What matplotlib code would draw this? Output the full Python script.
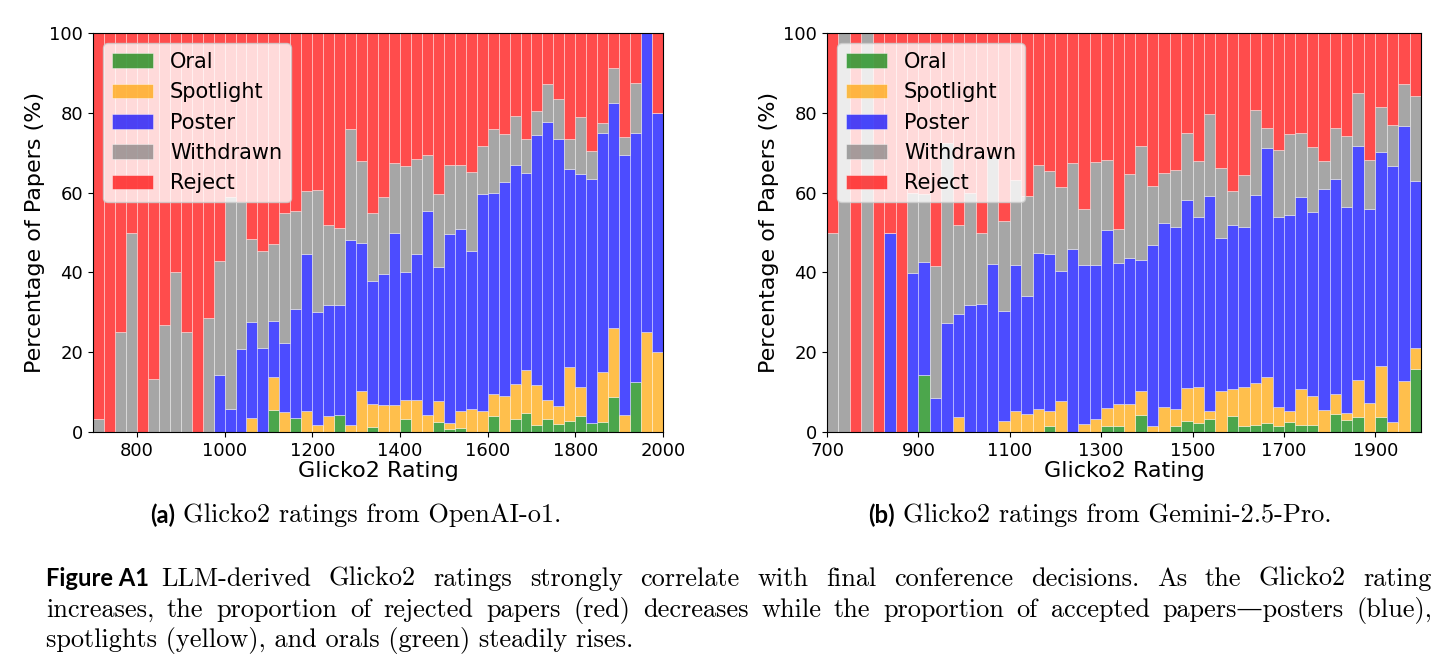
import matplotlib
matplotlib.use("Agg")
import matplotlib.pyplot as plt
import numpy as np

# ---------------- data (percent of papers per 25-point Glicko2 bin) ----------------
bin_start = list(range(700, 2000, 25))
bin_width = 25

# (a) OpenAI-o1
a_oral = [0, 0, 0, 0, 0, 0, 0, 0, 0, 0, 0, 0, 0, 0, 0, 0, 5.4, 0, 3.5, 0,
          0, 0, 4.2, 0, 0, 1.3, 0, 0, 3.3, 0, 0, 2.5, 0.7, 1.0, 0, 0, 3.9, 0, 3.3, 4.8,
          1.8, 3.3, 2.0, 2.8, 4.1, 2.3, 2.4, 8.7, 0, 12.5, 0, 0]
a_spot = [0, 0, 0, 0, 0, 0, 0, 0, 0, 0, 0, 0, 0, 0, 3.5, 0, 8.4, 4.9, 0, 5.2,
          1.7, 3.9, 0, 1.7, 10.2, 5.7, 6.7, 6.7, 4.7, 7.9, 4.3, 5.2, 1.6, 4.3, 5.8, 5.3, 5.5, 8.9, 8.8, 10.8,
          10.1, 4.8, 4.6, 13.4, 7.2, 0, 12.6, 17.4, 4.3, 0, 25, 20]
a_poster = [0, 0, 0, 0, 0, 0, 0, 0, 0, 0, 0, 14.3, 5.8, 20.9, 24, 21.1, 13.9, 17.5, 27.3, 39.4,
            28.5, 28, 27.7, 46.4, 37.2, 30.9, 32.9, 43.3, 32.1, 36.7, 51.1, 33.7, 47.2, 45.7, 39.5, 54.4, 50.6, 53.7, 54.9, 49.4,
            62.5, 69.6, 66.9, 49.8, 53.4, 61.2, 59.9, 56.4, 65.2, 62.4, 75, 60]
a_withdrawn = [3.3, 0, 25, 50, 0, 13.3, 26.7, 40, 25, 0, 28.6, 28.5, 53, 36.8, 20.9, 24.3, 19.4, 32.5, 24.5, 15.9,
               30.5, 20.1, 19.2, 27.8, 20.4, 17, 19.3, 17.5, 26.6, 23.8, 14.1, 18.3, 17.4, 15.9, 19.9, 12.1, 15.9, 12.1, 12.2, 8.5,
               6.1, 9.5, 10, 7.5, 14.2, 6.9, 2.5, 8.7, 4.4, 12.6, 0, 0]
a_reject = [96.7, 100, 75, 50, 100, 86.7, 73.3, 60, 75, 100, 71.4, 57.2, 41.2, 42.3, 51.6, 54.6, 52.9, 45.1, 44.7, 39.5,
            39.3, 48, 48.9, 24.1, 32.2, 45.1, 41.1, 32.5, 33.3, 31.6, 30.5, 40.3, 33.1, 33.1, 34.8, 28.2, 24.1, 25.3, 20.8, 26.5,
            19.5, 12.8, 16.5, 26.5, 21.1, 29.6, 22.6, 8.8, 26.1, 12.5, 0, 20]

# (b) Gemini-2.5-Pro
b_oral = [0, 0, 0, 0, 0, 0, 0, 0, 14.2, 0, 0, 0, 0, 0, 0, 0, 0, 0, 0, 1.6,
          0, 0, 0, 0, 1.4, 1.6, 0, 4.3, 0, 0, 1.4, 2.7, 2.3, 3.3, 0, 4.1, 1.6, 1.7, 2.3, 1.4,
          2.4, 1.7, 1.7, 0, 4.6, 2.9, 3.7, 0, 3.7, 0, 0, 15.8]
b_spot = [0, 0, 0, 0, 0, 0, 0, 0, 0, 0, 0, 3.7, 0, 0, 0, 2.7, 5.2, 4.6, 5.8, 3.6,
          7.7, 0, 2.0, 3.3, 4.6, 5.3, 7.1, 6.1, 1.6, 6.3, 4.4, 8.3, 9.1, 1.9, 10.4, 6.8, 9.7, 10.6, 11.5, 4.8,
          2.8, 9.1, 7.2, 5.4, 4.9, 1.9, 9.4, 7.3, 12.9, 2.5, 12.9, 5.3]
b_poster = [0, 0, 0, 0, 0, 50, 0, 39.8, 28.4, 8.4, 27.2, 25.9, 31.9, 32.1, 42.2, 27.7, 36.7, 29.4, 39.1, 39.4,
            32.6, 45.9, 39.9, 38.6, 44.7, 35.4, 36.5, 32.8, 45.3, 46.1, 45.5, 47.1, 42.5, 54, 38.1, 41.1, 40.2, 47.2, 57.4, 47.6,
            49.3, 48, 46.3, 55.6, 54, 51.6, 58.5, 48.6, 53.6, 64.1, 63.9, 41.9]
b_withdrawn = [50, 100, 0, 100, 0, 0, 0, 20, 17, 33.1, 45.3, 22.4, 27.9, 17.9, 26.8, 22.4, 21.3, 25.1, 21.9, 20.9,
               21.2, 21.4, 14.1, 25.8, 17.5, 8.6, 21.1, 28.5, 14.8, 12.5, 14.4, 16.8, 13.9, 20.5, 17.7, 8.3, 13, 21.3, 5, 17,
               20.2, 16.1, 16.3, 7, 12.7, 17.9, 13.4, 12.3, 11.3, 10.3, 10.4, 21.2]
b_reject = [50, 0, 100, 0, 100, 50, 100, 40.2, 40.4, 58.5, 27.5, 48, 40.2, 50, 31, 47.2, 36.8, 40.9, 33.2, 34.5,
            38.5, 32.7, 44, 32.3, 31.8, 49.1, 35.3, 28.3, 38.3, 35.1, 34.3, 25.1, 32.2, 20.3, 33.8, 39.7, 35.5, 19.2, 23.8, 29.2,
            25.3, 25.1, 28.5, 32, 23.8, 25.7, 15, 31.8, 18.5, 23.1, 12.8, 15.8]

categories = ["Oral", "Spotlight", "Poster", "Withdrawn", "Reject"]
colors = ["green", "orange", "blue", "gray", "red"]

a_xticks = [800, 1000, 1200, 1400, 1600, 1800, 2000]
b_xticks = [700, 900, 1100, 1300, 1500, 1700, 1900]
yticks = [0, 20, 40, 60, 80, 100]

caption_a = "Glicko2 ratings from OpenAI-o1."
caption_b = "Glicko2 ratings from Gemini-2.5-Pro."
fig_lines = [
    "LLM-derived Glicko2 ratings strongly correlate with final conference decisions.  As the Glicko2 rating",
    "increases, the proportion of rejected papers (red) decreases while the proportion of accepted papers\u2014posters (blue),",
    "spotlights (yellow), and orals (green) steadily rises.",
]

# ---------------- figure ----------------
W, H = 1448, 672
fig = plt.figure(figsize=(W / 100, H / 100), dpi=100)


def axes_px(x0, y0, x1, y1):
    return fig.add_axes([x0 / W, 1 - y1 / H, (x1 - x0) / W, (y1 - y0) / H])


ax_a = axes_px(93, 33, 663, 432)
ax_b = axes_px(827, 33, 1421, 432)


def draw(ax, series, xticks):
    x = np.array(bin_start, dtype=float)
    bottom = np.zeros(len(x))
    for name, col, vals in zip(categories, colors, series):
        v = np.array(vals, dtype=float)
        ax.bar(x, v, width=bin_width, align="edge", bottom=bottom, color=col,
               alpha=0.7, edgecolor="white", linewidth=0.4, label=name)
        bottom += v
    ax.set_xlim(700, 2000)
    ax.set_ylim(0, 100)
    ax.set_xticks(xticks)
    ax.set_yticks(yticks)
    ax.tick_params(labelsize=13)
    ax.set_xlabel("Glicko2 Rating", fontsize=16, labelpad=1)
    ax.set_ylabel("Percentage of Papers (%)", fontsize=16, labelpad=3)
    ax.legend(loc="upper left", fontsize=15, framealpha=0.8, borderaxespad=0.5)


draw(ax_a, [a_oral, a_spot, a_poster, a_withdrawn, a_reject], a_xticks)
draw(ax_b, [b_oral, b_spot, b_poster, b_withdrawn, b_reject], b_xticks)

# ---------------- captions ----------------
serif = ["cmr10", "DejaVu Serif"]
sans_bold = dict(family=["Lato", "DejaVu Sans"], weight="bold")
fig.canvas.draw()
renderer = fig.canvas.get_renderer()


def width_px(s, size, **kw):
    t = fig.text(0, 0, s, fontsize=size, **kw)
    w = t.get_window_extent(renderer).width
    t.remove()
    return w


def put(s, x, y, size, **kw):
    fig.text(x / W, 1 - y / H, s, fontsize=size, va="center", ha="left", **kw)


# size the serif text so that the last (natural-width) line spans ~590 px
base = 10
cap_size = base * 590 / width_px(fig_lines[2], base, family=serif)
lab_size = cap_size * 0.9

# sub-captions
for tag, text, cx in [("(a)", caption_a, 356), ("(b)", caption_b, 1100)]:
    wt = width_px(tag, lab_size, **sans_bold)
    ws = width_px(text, cap_size, family=serif)
    gap = 8
    x0 = cx - (wt + gap + ws) / 2
    put(tag, x0, 515, lab_size, **sans_bold)
    put(text, x0 + wt + gap, 515, cap_size, family=serif)

# figure caption (justified first two lines)
left_x, right_x = 46, 1432
tag = "Figure A1"
wt = width_px(tag, lab_size, **sans_bold)
put(tag, left_x, 579, lab_size, **sans_bold)
line_y = [579, 610, 641]
starts = [left_x + wt + 12, left_x, left_x]
for i, (line, y, x0) in enumerate(zip(fig_lines, line_y, starts)):
    if i < 2:
        words = line.split()
        ws = [width_px(w_, cap_size, family=serif) for w_ in words]
        gap = (right_x - x0 - sum(ws)) / (len(words) - 1)
        x = x0
        for w_, wd in zip(words, ws):
            put(w_, x, y, cap_size, family=serif)
            x += wd + gap
    else:
        put(line, x0, y, cap_size, family=serif)

fig.savefig("out.png", dpi=100)
